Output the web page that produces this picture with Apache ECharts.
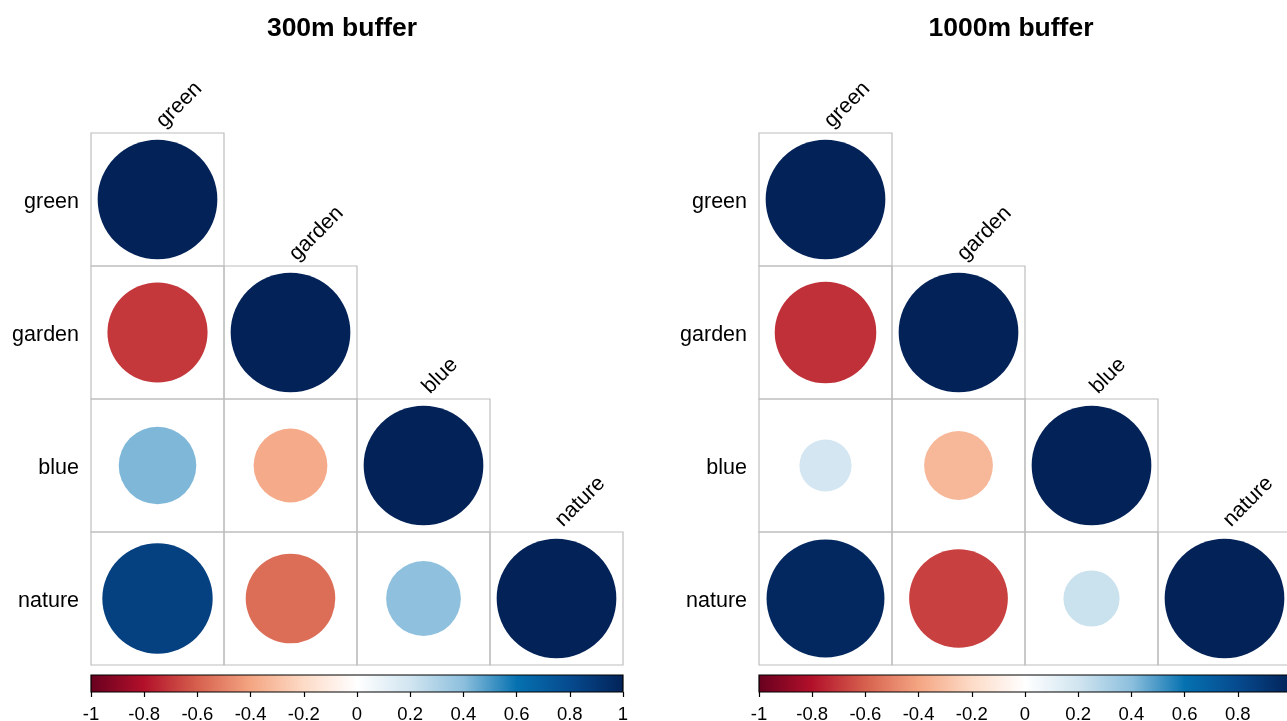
<!DOCTYPE html>
<html>
<head>
<meta charset="utf-8">
<script src="https://cdn.jsdelivr.net/npm/echarts@6/dist/echarts.min.js"></script>
<style>
html,body{margin:0;padding:0;background:#fff;}
#chart{width:1287px;height:721px;}
</style>
</head>
<body>
<div id="chart"></div>
<script>
// ---- data ----
const variables = ['green', 'garden', 'blue', 'nature'];
const titles = ['300m buffer', '1000m buffer'];
// lower-triangle correlation rows (row i holds columns 0..i)
const corr300 = [
  [1],
  [-0.70, 1],
  [0.42, -0.38, 1],
  [0.85, -0.56, 0.39, 1]
];
const corr1000 = [
  [1],
  [-0.72, 1],
  [0.19, -0.33, 1],
  [0.97, -0.68, 0.22, 1]
];
const colorValues = [-1, -0.8, -0.6, -0.4, -0.2, 0, 0.2, 0.4, 0.6, 0.8, 1];
const colorList = ['#67001F', '#B2102A', '#D6604D', '#F4A582', '#FDDBC7', '#FFFFFF',
                   '#D1E5F0', '#8CBFDD', '#0571B0', '#064A8E', '#022258'];
const colorbarRange = [-1, 1];

// ---- build ----
function cells(mat) {
  const out = [];
  mat.forEach((row, i) => row.forEach((v, j) => out.push([j, i, v])));
  return out;
}

const FONT = 'Liberation Sans, Arial, sans-serif';
const grids = [
  {left: 91, top: 133, width: 532, height: 532, outerBoundsMode: 'none', containLabel: false},
  {left: 759, top: 133, width: 532, height: 532, outerBoundsMode: 'none', containLabel: false},
  {left: 91, top: 675, width: 532, height: 17, outerBoundsMode: 'none', containLabel: false},
  {left: 759, top: 675, width: 532, height: 17, outerBoundsMode: 'none', containLabel: false}
];

function renderCell(params, api) {
  const xi = api.value(0), yi = api.value(1), v = api.value(2);
  const c = api.coord([xi, yi]);
  const sz = api.size([1, 1]);
  const w = sz[0], h = sz[1];
  const r = 0.45 * w * Math.sqrt(Math.abs(v));
  const children = [
    {type: 'rect', shape: {x: c[0] - w / 2, y: c[1] - h / 2, width: w, height: h},
     style: {fill: 'none', stroke: '#BEBEBE', lineWidth: 1.2}},
    {type: 'circle', shape: {cx: c[0], cy: c[1], r: r},
     style: {fill: api.visual('color')}}
  ];
  if (xi === yi) {
    children.push({
      type: 'text', x: c[0] + 10, y: c[1] - h / 2 - 1, rotation: Math.PI / 4,
      style: {text: variables[xi], fill: '#000', font: '21.5px ' + FONT,
              textAlign: 'left', textVerticalAlign: 'bottom'}
    });
  }
  if (xi === 0) {
    children.push({
      type: 'text', x: c[0] - w / 2 - 12, y: c[1] + 2.5,
      style: {text: variables[yi], fill: '#000', font: '21.5px ' + FONT,
              textAlign: 'right', textVerticalAlign: 'middle'}
    });
  }
  return {type: 'group', children: children};
}

function renderBar(params, api) {
  const p0 = api.coord([api.value(0), 0]);
  const p1 = api.coord([api.value(1), 1]);
  const stops = colorValues.map((v, k) => ({
    offset: (v - colorbarRange[0]) / (colorbarRange[1] - colorbarRange[0]),
    color: colorList[k]
  }));
  return {
    type: 'rect',
    shape: {x: p0[0], y: p1[1], width: p1[0] - p0[0], height: p0[1] - p1[1]},
    style: {fill: new echarts.graphic.LinearGradient(0, 0, 1, 0, stops),
            stroke: '#000', lineWidth: 1.2}
  };
}

const xAxes = [], yAxes = [];
for (let g = 0; g < 2; g++) {
  xAxes.push({type: 'category', gridIndex: g, data: variables, show: false});
  yAxes.push({type: 'category', gridIndex: g, data: variables, inverse: true, show: false});
}
for (let g = 2; g < 4; g++) {
  xAxes.push({type: 'value', gridIndex: g, min: colorbarRange[0], max: colorbarRange[1], interval: 0.2,
    axisLine: {show: false}, splitLine: {show: false},
    axisTick: {show: true, length: 5, lineStyle: {color: '#000', width: 1.2}},
    axisLabel: {color: '#000', fontSize: 18.5, fontFamily: FONT, margin: 13,
                showMinLabel: true, showMaxLabel: true, hideOverlap: false}});
  yAxes.push({type: 'value', gridIndex: g, min: 0, max: 1, show: false});
}

const option = {
  animation: false,
  backgroundColor: '#fff',
  title: titles.map((t, k) => ({
    text: t, left: k === 0 ? 337 : 1006, top: 10, textAlign: 'center',
    textStyle: {fontSize: 26.5, fontWeight: 'bold', color: '#000', fontFamily: FONT}
  })),
  grid: grids,
  xAxis: xAxes,
  yAxis: yAxes,
  visualMap: {
    type: 'continuous', show: false, min: colorbarRange[0], max: colorbarRange[1],
    dimension: 2, seriesIndex: [0, 1],
    inRange: {color: colorList}
  },
  series: [
    {type: 'custom', xAxisIndex: 0, yAxisIndex: 0, data: cells(corr300),
     renderItem: renderCell, encode: {x: 0, y: 1}, clip: false},
    {type: 'custom', xAxisIndex: 1, yAxisIndex: 1, data: cells(corr1000),
     renderItem: renderCell, encode: {x: 0, y: 1}, clip: false},
    {type: 'custom', xAxisIndex: 2, yAxisIndex: 2, data: [colorbarRange],
     renderItem: renderBar, encode: {x: [0, 1]}, clip: false},
    {type: 'custom', xAxisIndex: 3, yAxisIndex: 3, data: [colorbarRange],
     renderItem: renderBar, encode: {x: [0, 1]}, clip: false}
  ]
};

const chart = echarts.init(document.getElementById('chart'), null, {renderer: 'canvas'});
chart.setOption(option);
</script>
</body>
</html>
